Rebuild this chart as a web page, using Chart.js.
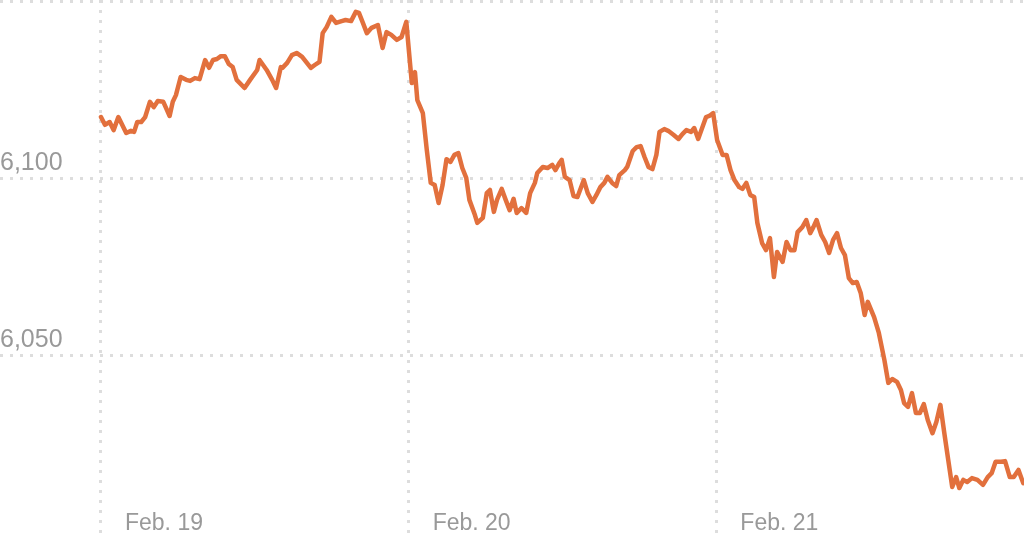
<!DOCTYPE html>
<html>
<head>
<meta charset="utf-8">
<script src="https://cdn.jsdelivr.net/npm/chart.js@4/dist/chart.umd.min.js"></script>
<style>
  html, body { margin: 0; padding: 0; background: #ffffff; }
  #wrap { width: 1024px; height: 536px; }
</style>
</head>
<body>
<div id="wrap"><canvas id="c" width="1024" height="536"></canvas></div>
<script>
// Tick labels
const dayLabels = ["Feb. 19", "Feb. 20", "Feb. 21"];
const yTickValues = [6050, 6100, 6150];

// Minutes since the 9:30 open, and index level, per trading day
const feb19Minutes = [0, 5, 11, 16, 22, 32, 38, 42, 46, 51, 56, 62, 67, 72, 79, 82, 87, 91, 95, 101, 108, 113, 119, 125, 132, 137, 142, 147, 152, 157, 162, 167, 172, 182, 189, 198, 201, 210, 217, 222, 228, 230, 236, 242, 248, 255, 261, 266, 271, 277, 281, 286, 292, 298, 305, 310, 317, 323, 327, 332, 337, 343, 351, 357, 362, 368, 375, 381, 387];
const feb19Values = [6117.5, 6115.3, 6116.1, 6113.8, 6117.5, 6113.0, 6113.6, 6113.3, 6116.1, 6116.1, 6117.5, 6121.8, 6120.3, 6122.0, 6121.8, 6120.3, 6117.8, 6121.8, 6123.7, 6128.8, 6128.0, 6127.7, 6128.5, 6128.2, 6133.6, 6131.4, 6133.6, 6133.9, 6134.7, 6134.7, 6132.5, 6131.6, 6128.0, 6125.7, 6128.0, 6130.8, 6133.6, 6130.8, 6128.0, 6125.7, 6131.6, 6131.4, 6132.8, 6135.0, 6135.6, 6134.5, 6132.8, 6131.4, 6132.2, 6133.1, 6141.2, 6142.9, 6145.8, 6144.1, 6144.6, 6144.9, 6144.6, 6147.2, 6146.9, 6144.1, 6141.2, 6142.7, 6143.5, 6137.0, 6141.5, 6140.7, 6139.3, 6140.1, 6144.4];

const feb20Minutes = [4, 8, 11, 18, 23, 28, 33, 38, 43, 48, 53, 58, 63, 68, 73, 77, 84, 87, 94, 99, 103, 108, 112, 118, 123, 128, 133, 137, 143, 149, 154, 160, 163, 170, 176, 182, 186, 191, 194, 198, 204, 209, 214, 222, 227, 233, 238, 243, 248, 252, 258, 263, 267, 274, 277, 284, 289, 294, 299, 304, 309, 314, 318, 324, 329, 336, 342, 347, 352, 358, 362, 367, 372, 377, 381, 386];
const feb20Values = [6127.1, 6130.2, 6122.3, 6118.6, 6108.2, 6098.9, 6098.3, 6093.2, 6098.3, 6105.6, 6104.8, 6106.8, 6107.3, 6103.1, 6100.3, 6094.1, 6089.8, 6087.6, 6089.0, 6096.0, 6096.9, 6090.7, 6094.1, 6097.2, 6094.1, 6091.2, 6094.4, 6090.4, 6091.8, 6090.4, 6096.0, 6098.9, 6101.7, 6103.4, 6103.1, 6104.0, 6102.5, 6104.5, 6105.4, 6100.6, 6099.7, 6095.2, 6094.9, 6099.7, 6096.0, 6093.5, 6095.5, 6097.7, 6098.9, 6100.6, 6098.9, 6098.0, 6101.1, 6102.5, 6103.4, 6107.9, 6109.0, 6109.3, 6106.2, 6103.4, 6102.8, 6106.8, 6113.3, 6114.1, 6113.6, 6112.4, 6111.3, 6112.7, 6113.8, 6113.3, 6114.4, 6111.3, 6114.4, 6117.5, 6117.8, 6118.6];

const feb21Minutes = [1, 8, 13, 18, 23, 29, 33, 38, 43, 48, 52, 58, 63, 68, 73, 77, 84, 89, 94, 99, 103, 109, 114, 119, 123, 127, 133, 138, 143, 148, 153, 158, 163, 168, 173, 178, 183, 188, 192, 200, 206, 213, 218, 223, 229, 234, 238, 243, 248, 253, 258, 263, 268, 274, 279, 284, 289, 294, 299, 304, 308, 313, 318, 324, 331, 338, 344, 349, 354, 361, 366, 372, 377, 383, 389];
const feb21Values = [6111.0, 6106.8, 6106.8, 6102.5, 6099.7, 6097.7, 6097.2, 6098.9, 6095.5, 6094.9, 6087.6, 6081.9, 6079.9, 6083.3, 6072.3, 6079.4, 6076.6, 6082.2, 6079.9, 6079.9, 6085.0, 6086.4, 6088.4, 6084.7, 6086.4, 6088.4, 6084.2, 6082.2, 6079.1, 6082.8, 6084.7, 6080.5, 6078.5, 6072.0, 6070.6, 6070.9, 6067.8, 6061.6, 6065.3, 6061.0, 6056.5, 6048.9, 6042.4, 6043.5, 6042.7, 6040.4, 6036.7, 6035.6, 6039.5, 6033.9, 6033.9, 6036.4, 6031.9, 6028.2, 6031.4, 6036.2, 6028.2, 6020.6, 6013.0, 6015.8, 6012.7, 6015.0, 6014.4, 6015.5, 6015.0, 6013.6, 6015.8, 6016.9, 6020.1, 6020.1, 6020.3, 6015.8, 6015.8, 6017.8, 6014.1];

const SESSION = 390; // minutes per trading session
const days = [
  [feb19Minutes, feb19Values],
  [feb20Minutes, feb20Values],
  [feb21Minutes, feb21Values]
];
const points = [];
days.forEach(([mins, vals], d) => {
  mins.forEach((m, i) => points.push({ x: d * SESSION + m, y: vals[i] }));
});

const gridColor = '#dddddd';
const labelColor = '#999999';
const fontFamily = "'Liberation Sans', Arial, sans-serif";

function zeroPad(s) {
  s.paddingTop = 0; s.paddingBottom = 0; s.paddingLeft = 0; s.paddingRight = 0;
}

new Chart(document.getElementById('c'), {
  type: 'line',
  data: {
    datasets: [{
      data: points,
      borderColor: '#e2703d',
      borderWidth: 4.5,
      pointRadius: 0,
      tension: 0,
      borderJoinStyle: 'round',
      borderCapStyle: 'round',
      fill: false
    }]
  },
  options: {
    responsive: false,
    animation: false,
    devicePixelRatio: 1,
    layout: { padding: 0 },
    plugins: { legend: { display: false }, tooltip: { enabled: false } },
    scales: {
      x: {
        type: 'linear',
        position: 'bottom',
        min: -128,
        max: 3 * SESSION,
        afterBuildTicks: s => { s.ticks = dayLabels.map((_, i) => ({ value: i * SESSION })); },
        afterFit: s => { s.height = 0; zeroPad(s); },
        border: { display: false, dash: [3, 7] },
        grid: {
          color: gridColor,
          lineWidth: 3,
          drawTicks: false
        },
        ticks: {
          autoSkip: false,
          maxRotation: 0,
          mirror: true,
          align: 'start',
          labelOffset: 24,
          padding: -1,
          color: labelColor,
          font: { family: fontFamily, size: 23 },
          callback: v => dayLabels[Math.round(v / SESSION)]
        }
      },
      y: {
        type: 'linear',
        position: 'left',
        min: 5999.15,
        max: 6150.56,
        afterBuildTicks: s => { s.ticks = yTickValues.map(v => ({ value: v })); },
        afterFit: s => { s.width = 0; zeroPad(s); },
        border: { display: false, dash: [3, 7] },
        grid: {
          color: gridColor,
          lineWidth: 3,
          drawTicks: false
        },
        ticks: {
          mirror: true,
          padding: 0,
          labelOffset: -16,
          color: labelColor,
          font: { family: fontFamily, size: 25 },
          callback: v => v.toLocaleString('en-US')
        }
      }
    }
  }
});
</script>
</body>
</html>
